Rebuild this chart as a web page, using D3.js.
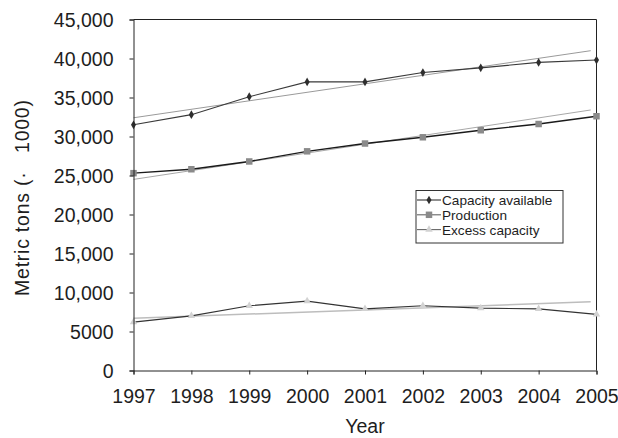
<!DOCTYPE html>
<html>
<head>
<meta charset="utf-8">
<script src="https://cdn.jsdelivr.net/npm/d3@7/dist/d3.min.js"></script>
<style>
  html, body { margin: 0; padding: 0; background: #fff; }
  svg { display: block; font-family: "Liberation Sans", Arial, sans-serif; }
</style>
</head>
<body>
<svg id="chart" width="618" height="438"></svg>
<script>
// Capacity vs production, metric tons (x 1000), 1997-2005.
const years      = [1997, 1998, 1999, 2000, 2001, 2002, 2003, 2004, 2005];
const capacity   = [31500, 32800, 35100, 37000, 37000, 38200, 38800, 39500, 39800];
const production = [25300, 25800, 26800, 28100, 29100, 29900, 30800, 31600, 32600];
const excess     = [6200, 7000, 8300, 8900, 7900, 8300, 8000, 7900, 7200];

// linear trend lines, end points
const trendYears      = [1997, 2004.9];
const trendCapacity   = [32400, 41000];
const trendProduction = [24500, 33400];
const trendExcess     = [6700, 8800];

const yTicks      = [0, 5000, 10000, 15000, 20000, 25000, 30000, 35000, 40000, 45000];
const yTickLabels = ['0', '5000', '10,000', '15,000', '20,000', '25,000', '30,000', '35,000', '40,000', '45,000'];
const legendLabels = ['Capacity available', 'Production', 'Excess capacity'];

const svg = d3.select('#chart');
const L = 133.5, R = 596.5, T = 19.5, B = 370.5;

const x = d3.scaleLinear().domain([1997, 2005]).range([L, R]);
const y = d3.scaleLinear().domain([0, 45000]).range([B, T]);

// plot frame (top + right)
svg.append('path')
  .attr('d', `M${L},${T}H${R}V${B}`)
  .attr('fill', 'none').attr('stroke', '#222').attr('stroke-width', 1);

// trend lines
const trendLine = d3.line().x((d, i) => x(trendYears[i])).y(d => y(d));
[[trendCapacity, '#9a9a9a', 1], [trendProduction, '#a8a8a8', 1], [trendExcess, '#bdbdbd', 1.5]]
  .forEach(([vals, col, w]) => {
    svg.append('path').attr('d', trendLine(vals))
      .attr('fill', 'none').attr('stroke', col).attr('stroke-width', w);
  });

// series lines
const line = d3.line().x((d, i) => x(years[i])).y(d => y(d));
svg.append('path').attr('d', line(capacity)).attr('fill', 'none').attr('stroke', '#3a3a3a').attr('stroke-width', 1.1);
svg.append('path').attr('d', line(production)).attr('fill', 'none').attr('stroke', '#1a1a1a').attr('stroke-width', 1.4);
svg.append('path').attr('d', line(excess)).attr('fill', 'none').attr('stroke', '#333').attr('stroke-width', 1.1);

// markers
const diamond  = d3.symbol().type(d3.symbolDiamond).size(22);
const square   = d3.symbol().type(d3.symbolSquare).size(42);
const triangle = d3.symbol().type(d3.symbolTriangle).size(24);

function markers(vals, sym, col) {
  svg.append('g').selectAll('path').data(vals).enter().append('path')
    .attr('d', sym)
    .attr('transform', (d, i) => `translate(${x(years[i])},${y(d)})`)
    .attr('fill', col);
}
markers(capacity, diamond, '#2e2e2e');
markers(production, square, '#8a8a8a');
markers(excess, triangle, '#d2d2d2');

// axes
const yAxis = d3.axisLeft(y).tickValues(yTicks).tickFormat((d, i) => yTickLabels[i]).tickSize(4).tickPadding(16);
const gy = svg.append('g').attr('transform', `translate(${L},0)`).call(yAxis);
gy.select('.domain').attr('stroke', '#222');
gy.selectAll('.tick line').attr('stroke', '#222');
gy.selectAll('.tick text').attr('font-size', '19.5px').attr('fill', '#1e1e1e')
  .attr('dy', null).attr('y', 7);

const xAxis = d3.axisBottom(x).tickValues(years).tickFormat(d3.format('d')).tickSize(4).tickPadding(14);
const gx = svg.append('g').attr('transform', `translate(0,${B})`).call(xAxis);
gx.select('.domain').attr('stroke', '#222');
gx.selectAll('.tick line').attr('stroke', '#222');
gx.selectAll('.tick text').attr('font-size', '19.5px').attr('fill', '#1e1e1e')
  .attr('dy', null).attr('y', 32.5);

// axis titles
svg.append('text').attr('x', (L + R) / 2).attr('y', 433)
  .attr('text-anchor', 'middle').attr('font-size', '19.5px').attr('fill', '#1e1e1e')
  .text('Year');
svg.append('text')
  .attr('transform', 'translate(29,198) rotate(-90)')
  .attr('text-anchor', 'middle').attr('font-size', '19.5px').attr('fill', '#1e1e1e')
  .attr('textLength', 196).attr('lengthAdjust', 'spacing')
  .style('white-space', 'pre')
  .text('Metric tons (·   1000)');

// legend
const lg = svg.append('g');
lg.append('rect').attr('x', 416).attr('y', 190.5).attr('width', 147).attr('height', 52.5)
  .attr('fill', '#fff').attr('stroke', '#333').attr('stroke-width', 1);
const legSyms = [[diamond, '#2e2e2e', '#333'], [square, '#8a8a8a', '#666'], [triangle, '#d2d2d2', '#666']];
legendLabels.forEach((lab, i) => {
  const by = 205 + i * 14.8;
  const cy = by - 5;
  lg.append('line').attr('x1', 417).attr('x2', 441).attr('y1', cy).attr('y2', cy)
    .attr('stroke', legSyms[i][2]).attr('stroke-width', 1.1);
  lg.append('path').attr('d', legSyms[i][0]).attr('transform', `translate(429,${cy})`).attr('fill', legSyms[i][1]);
  lg.append('text').attr('x', 442).attr('y', by).attr('font-size', '13.6px').attr('fill', '#1e1e1e').text(lab);
});
</script>
</body>
</html>
